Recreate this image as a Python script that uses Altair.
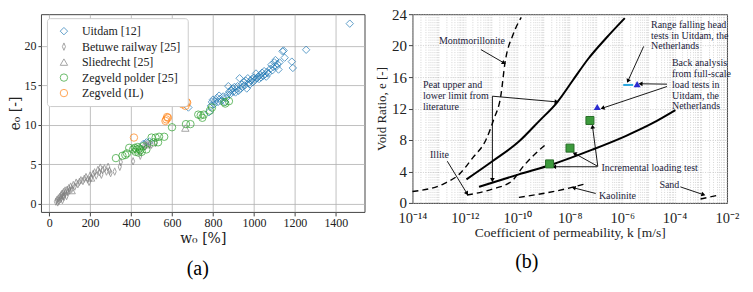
import math
import altair as alt
import pandas as pd

FONT = "Liberation Serif"

# ---------------- Panel (a) data ----------------
uitdam_w = [460, 475, 490, 680, 780, 790, 795, 800, 805, 810, 820, 825, 830, 835, 840, 850, 860, 865, 870, 875,
            880, 885, 890, 895, 900, 905, 910, 915, 920, 925, 930, 935, 940, 945, 950, 955, 960, 965, 970, 975,
            980, 985, 990, 995, 1000, 1005, 1010, 1015, 1020, 1025, 1030, 1035, 1040, 1045, 1050, 1055, 1060,
            1065, 1070, 1080, 1085, 1090, 1095, 1100, 1105, 1110, 1115, 1120, 1125, 1140, 1145, 1150, 1185,
            1190, 1255, 1468]
uitdam_e = [7.6, 7.8, 7.9, 12.2, 11.6, 12.4, 12.9, 13.2, 12.6, 13.0, 13.4, 12.9, 13.7, 13.3, 13.0, 13.6, 12.9,
            13.4, 13.8, 14.9, 14.2, 13.9, 14.4, 14.6, 14.2, 14.8, 14.1, 14.5, 14.9, 14.3, 15.9, 14.6, 15.1, 14.8,
            15.4, 15.0, 15.6, 14.6, 15.9, 15.3, 15.1, 15.6, 15.8, 15.4, 16.0, 15.7, 16.5, 15.9, 16.1, 15.8, 16.3,
            16.0, 16.6, 16.2, 16.8, 16.4, 16.1, 16.7, 16.5, 17.1, 17.6, 16.9, 17.3, 17.9, 18.2, 17.4, 17.7, 17.0,
            17.9, 19.3, 19.4, 18.5, 18.0, 17.2, 19.5, 22.8]
betuwe_w = [33, 38, 42, 45, 48, 52, 55, 58, 60, 63, 65, 68, 70, 72, 75, 78, 80, 85, 88, 92, 96, 100, 105, 110,
            118, 125, 132, 140, 148, 155, 165, 172, 180, 188, 195, 200, 205, 215, 222, 230, 238, 245, 250, 255,
            262, 270, 280, 288, 295, 300, 320, 345, 350, 410, 445, 470, 490, 500, 520]
betuwe_e = [0.3, 0.5, 0.2, 0.7, 0.4, 0.9, 0.6, 1.1, 0.8, 1.3, 0.5, 1.0, 1.5, 0.9, 1.2, 1.7, 1.4, 1.0, 1.8, 1.5,
            2.0, 1.7, 2.2, 1.9, 2.4, 2.2, 2.7, 2.5, 2.8, 3.0, 2.9, 3.2, 3.4, 3.1, 2.8, 3.6, 3.3, 3.8, 4.0, 3.6,
            4.3, 4.0, 4.6, 3.7, 4.3, 4.5, 4.1, 4.7, 4.2, 3.9, 4.1, 4.7, 5.3, 5.4, 6.1, 7.3, 7.6, 7.5, 7.7]
sliedrecht_w = [110, 205, 470, 480, 665]
sliedrecht_e = [1.7, 3.3, 7.6, 7.5, 9.6]
zegveld_w = [326, 358, 372, 380, 391, 410, 418, 422, 428, 432, 436, 440, 445, 452, 459, 475, 500, 510, 520, 532,
             537, 562, 600, 668, 690, 728, 740, 748, 755, 785, 795, 855, 860, 878]
zegveld_e = [5.8, 6.1, 6.2, 6.4, 7.1, 6.9, 7.1, 6.6, 6.9, 7.2, 6.5, 7.0, 6.8, 6.6, 7.3, 6.9, 8.4, 7.8, 8.4, 7.8,
             8.5, 8.5, 9.7, 10.1, 10.1, 11.3, 11.2, 10.9, 11.3, 11.8, 12.2, 12.9, 12.7, 13.0]
zegil_w = [414, 568, 572, 576, 580, 652, 666, 671, 674]
zegil_e = [8.4, 10.5, 10.7, 11.0, 10.9, 12.6, 12.4, 12.9, 12.8]

series_names = ["Uitdam [12]", "Betuwe railway [25]", "Sliedrecht [25]", "Zegveld polder [25]", "Zegveld (IL)"]
series_colors = ["#1f77b4", "#7f7f7f", "#7f7f7f", "#2ca02c", "#ff7f0e"]
thin_diamond = "M0,-1L0.42,0L0,1L-0.42,0Z"
series_shapes = ["diamond", thin_diamond, "triangle-up", "circle", "circle"]

rows = []
for name, ws, es in zip(series_names,
                        [uitdam_w, betuwe_w, sliedrecht_w, zegveld_w, zegil_w],
                        [uitdam_e, betuwe_e, sliedrecht_e, zegveld_e, zegil_e]):
    for w, e in zip(ws, es):
        rows.append({"set": name, "w": w, "e": e})
dfa = pd.DataFrame(rows)

leg = dict(title=None, orient="none", legendX=6, legendY=4, fillColor="white", strokeColor="#cccccc",
           padding=7, cornerRadius=3, labelFont=FONT, labelFontSize=12, rowPadding=3.5, symbolSize=55,
           symbolStrokeWidth=1, labelOffset=12, symbolOffset=4, labelColor="#222")

W_A, H_A = 324, 198
panel_a = alt.Chart(dfa).mark_point(filled=False, strokeWidth=1, size=55).encode(
    x=alt.X("w:Q", scale=alt.Scale(domain=[-40, 1540], nice=False, zero=False),
            axis=alt.Axis(values=list(range(0, 1401, 200)), format="d", title="w₀ [%]", titleFontSize=14,
                          titleFontWeight="normal", titleFont="DejaVu Serif", titlePadding=3,
                          labelFontSize=12, tickSize=4)),
    y=alt.Y("e:Q", scale=alt.Scale(domain=[-1, 24], nice=False, zero=False),
            axis=alt.Axis(values=[0, 5, 10, 15, 20], title="e₀ [-]", titleFontSize=14,
                          titleFontWeight="normal", titleFont="DejaVu Serif", titlePadding=1,
                          labelPadding=2, labelFontSize=12, tickSize=3)),
    color=alt.Color("set:N", scale=alt.Scale(domain=series_names, range=series_colors), legend=alt.Legend(**leg)),
    shape=alt.Shape("set:N", scale=alt.Scale(domain=series_names, range=series_shapes), legend=alt.Legend(**leg)),
).properties(width=W_A, height=H_A,
             title=alt.TitleParams("(a)", orient="bottom", fontSize=20, font=FONT, fontWeight="normal",
                                   dx=-5, offset=13))

# ---------------- Panel (b) data (log10 of k, void ratio e) ----------------
mont_logk = [-14.0, -12.79, -12.22, -11.71, -11.2, -10.89, -10.63, -10.47, -10.15, -9.85]
mont_e = [1.45, 2.46, 3.63, 5.7, 8.0, 10.7, 13.6, 17.8, 21.5, 23.6]
illite_logk = [-11.92, -10.96, -10.2, -9.82, -8.93]
illite_e = [1.0, 1.75, 2.8, 4.46, 7.4]
kaol_logk = [-9.94, -8.03, -7.46]
kaol_e = [0.7, 1.88, 2.38]
sand_logk = [-3.01, -2.32]
sand_e = [0.5, 1.0]
peat_up_logk = [-11.94, -10.95, -9.94, -9.17, -8.48, -7.9, -7.3, -6.6, -5.9]
peat_up_e = [3.0, 5.3, 7.8, 10.4, 12.8, 15.5, 18.3, 21.0, 23.5]
peat_lo_logk = [-11.46, -9.94, -8.67, -7.14, -5.87, -4.86, -3.97]
peat_lo_e = [2.04, 3.63, 4.89, 6.77, 8.5, 10.1, 11.8]

inc_logk = [-8.77, -7.99, -7.23]
inc_e = [4.96, 6.97, 10.48]
back_logk = [-6.95, -5.43]
back_e = [12.2, 15.1]
fh_logk = [-5.96, -5.58]
fh_e = 15.0

dashed_rows, solid_rows = [], []
for name, lk, es in [("Montmorillonite", mont_logk, mont_e), ("Illite", illite_logk, illite_e),
                     ("Kaolinite", kaol_logk, kaol_e), ("Sand", sand_logk, sand_e)]:
    for i, (a, b) in enumerate(zip(lk, es)):
        dashed_rows.append({"s": name, "k": 10 ** a, "e": b, "o": i})
for name, lk, es in [("upper", peat_up_logk, peat_up_e), ("lower", peat_lo_logk, peat_lo_e)]:
    for i, (a, b) in enumerate(zip(lk, es)):
        solid_rows.append({"s": name, "k": 10 ** a, "e": b, "o": i})

W_B, H_B = 315, 189

# arrows: (log10 k start, e start, log10 k end, e end)
arrows = [(-11.39, 19.5, -10.51, 17.8), (-10.95, 13.57, -8.5, 12.85), (-10.95, 13.57, -10.95, 2.9),
          (-12.67, 5.3, -11.92, 1.2), (-7.01, 1.2, -7.85, 1.92), (-3.78, 2.04, -2.9, 1.05),
          (-6.95, 4.6, -8.6, 4.6), (-6.93, 4.65, -7.82, 6.3), (-6.93, 4.65, -7.13, 9.7),
          (-5.18, 19.9, -5.78, 15.5), (-4.29, 15.1, -5.3, 15.15), (-4.29, 14.8, -6.75, 12.05)]


def to_px(lk, e):
    return ((lk + 14) / 12 * W_B, H_B - e / 24 * H_B)


arrow_rows, head_rows = [], []
for (a1, e1, a2, e2) in arrows:
    arrow_rows.append({"k": 10 ** a1, "e": e1, "k2": 10 ** a2, "e2": e2})
    x1, y1 = to_px(a1, e1)
    x2, y2 = to_px(a2, e2)
    ang = math.degrees(math.atan2(x2 - x1, -(y2 - y1))) % 360
    head_rows.append({"k": 10 ** a2, "e": e2, "ang": ang})

texts_left = [
    ("Peat upper and", -13.6, 14.95), ("lower limit from", -13.6, 13.57), ("literature", -13.6, 12.18),
    ("Incremental loading test", -6.79, 4.46),
    ("Range falling head", -4.9, 22.63), ("tests in Uitdam, the", -4.9, 21.25), ("Netherlands", -4.9, 19.92),
    ("Back analysis", -4.1, 17.74), ("from full-scale", -4.1, 16.42), ("load tests in", -4.1, 14.99),
    ("Uitdam, the", -4.1, 13.57), ("Netherlands", -4.1, 12.28),
]
texts_center = [("Montmorillonite", -11.73, 20.6), ("Illite", -12.97, 6.05), ("Kaolinite", -6.18, 0.91),
                ("Sand", -4.2, 2.26)]

grid_vals = [m * 10.0 ** n for n in range(-14, -2) for m in range(1, 10)] + [1e-2]
sup = {-14: "10⁻¹⁴", -12: "10⁻¹²", -10: "10⁻¹⁰", -8: "10⁻⁸", -6: "10⁻⁶", -4: "10⁻⁴", -2: "10⁻²"}
L = "round(log(datum.value)/LN10)"
expr = "''"
for p, s in sup.items():
    expr = f"({L} == {p} ? '{s}' : {expr})"
label_expr = f"abs(log(datum.value)/LN10 - {L}) > 0.01 ? '' : {expr}"

xs = alt.Scale(type="log", domain=[1e-14, 1e-2], nice=False)
ys = alt.Scale(domain=[0, 24], nice=False, zero=False)
x_axis = alt.Axis(values=grid_vals, labelExpr=label_expr, labelOverlap=False, labelFlush=False,
                  labelBound=False, ticks=False, gridColor="#b8b8b8", gridWidth=0.6,
                  gridDash=[1, 1.5], labelFontSize=14.5, labelPadding=9,
                  title="Coefficient of permeability, k [m/s]",
                  titleFontSize=13.5, titleFontWeight="normal", titlePadding=0)
y_axis = alt.Axis(values=[0, 4, 8, 12, 16, 20, 24], labelFontSize=15, gridColor="#b8b8b8",
                  gridWidth=0.6, gridDash=[1, 1.5], labelOverlap=False, labelFlush=False,
                  labelBound=False, title="Void Ratio, e [-]", titleFontSize=13,
                  titleFontWeight="normal", titlePadding=3, tickSize=4)
X = alt.X("k:Q", scale=xs, axis=x_axis)
Y = alt.Y("e:Q", scale=ys, axis=y_axis)

dashed = alt.Chart(pd.DataFrame(dashed_rows)).mark_line(color="black", strokeWidth=1.4, strokeDash=[6, 4],
                                                         interpolate="monotone").encode(
    x=X, y=Y, detail="s:N", order="o:Q")
solid = alt.Chart(pd.DataFrame(solid_rows)).mark_line(color="black", strokeWidth=2,
                                                       interpolate="monotone").encode(
    x=X, y=Y, detail="s:N", order="o:Q")
rules = alt.Chart(pd.DataFrame(arrow_rows)).mark_rule(color="black", strokeWidth=0.9).encode(
    x=X, y=Y, x2="k2:Q", y2="e2:Q")
heads = alt.Chart(pd.DataFrame(head_rows)).mark_point(shape="triangle-up", filled=True, color="black",
                                                       size=22, opacity=1).encode(
    x=X, y=Y, angle=alt.Angle("ang:Q", scale=None))
fh = alt.Chart(pd.DataFrame({"k": [10 ** fh_logk[0]], "k2": [10 ** fh_logk[1]], "e": [fh_e]})).mark_rule(
    color="#2aa7df", strokeWidth=2).encode(x=X, x2="k2:Q", y=Y)
squares = alt.Chart(pd.DataFrame({"k": [10 ** v for v in inc_logk], "e": inc_e})).mark_point(
    shape="square", filled=True, color="#3c9a3c", stroke="#2a6e2a", strokeWidth=1, size=64, opacity=1).encode(
    x=X, y=Y)
tris = alt.Chart(pd.DataFrame({"k": [10 ** v for v in back_logk], "e": back_e})).mark_point(
    shape="triangle-up", filled=True, color="#2b2bd0", size=50, opacity=1).encode(x=X, y=Y)
tl = alt.Chart(pd.DataFrame([{"t": t, "k": 10 ** a, "e": e} for t, a, e in texts_left])).mark_text(
    align="left", baseline="middle", font=FONT, fontSize=10, color="#1b1b3a").encode(
    x=X, y=Y, text="t:N")
tc = alt.Chart(pd.DataFrame([{"t": t, "k": 10 ** a, "e": e} for t, a, e in texts_center])).mark_text(
    align="center", baseline="middle", font=FONT, fontSize=10, color="#1b1b3a").encode(
    x=X, y=Y, text="t:N")

panel_b = alt.layer(dashed, solid, rules, heads, fh, squares, tris, tl, tc).properties(
    width=W_B, height=H_B,
    title=alt.TitleParams("(b)", orient="bottom", fontSize=20, font=FONT, fontWeight="normal",
                          dx=-43, offset=13))

chart = alt.hconcat(panel_a, panel_b, spacing=48, bounds="flush").properties(
    padding={"left": 0, "top": -2, "right": 5, "bottom": 0}
).configure(font=FONT).configure_axis(
    labelFont=FONT, titleFont=FONT, labelColor="#222", titleColor="#222", domain=False,
    gridColor="#b0b0b0", gridWidth=0.8, tickColor="#444"
).configure_view(stroke="#444", strokeWidth=1)

chart.save("out.html", embed_options={"renderer": "svg", "actions": False})
